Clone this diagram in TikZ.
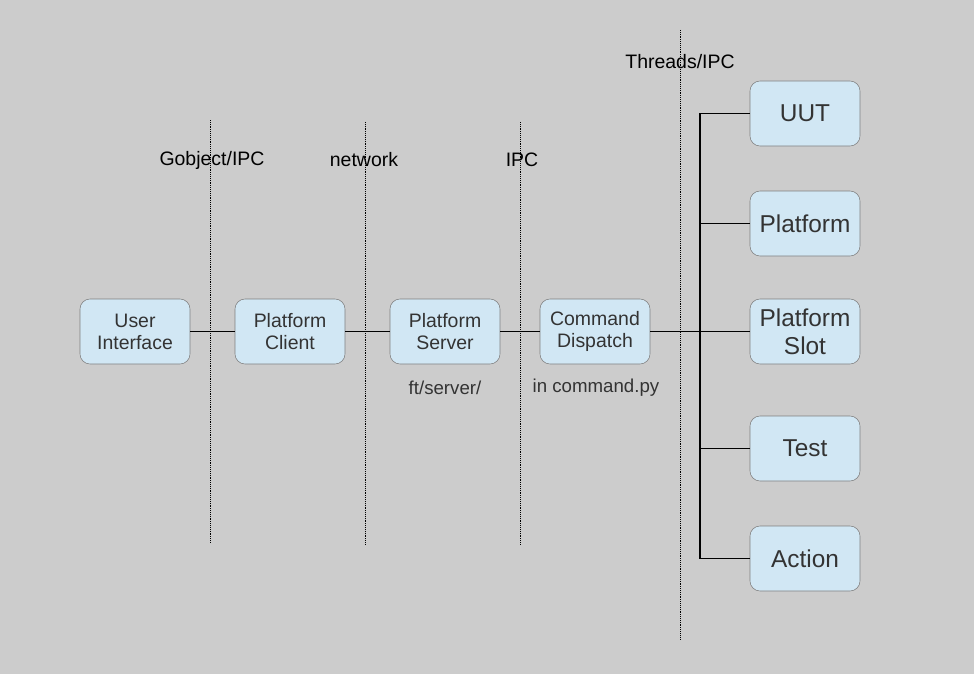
\documentclass[tikz,border=0pt]{standalone}
\usepackage{fontspec}
\setmainfont{Liberation Sans}
\usepackage{tikz}
\usepackage{xcolor}
\usetikzlibrary{positioning, calc}

\definecolor{bggray}{HTML}{CCCCCC}
\definecolor{boxfill}{HTML}{D1E7F4}
\definecolor{boxline}{HTML}{7F7F7F}
\definecolor{boxtext}{HTML}{333333}

\begin{document}
\begin{tikzpicture}[x=0.75pt, y=-0.75pt]
  \tikzset{
    module/.style={draw=boxline, fill=boxfill, rounded corners=7.5pt, minimum width=82.5pt,
      minimum height=48.75pt, inner sep=0pt, align=center, text=boxtext,
      font=\fontsize{14.6}{16.5}\selectfont},
    bigmodule/.style={module, font=\fontsize{18.3}{21}\selectfont},
    wire/.style={line width=1.4pt, black},
    boundary/.style={densely dotted, thin, black},
    label/.style={font=\fontsize{14.6}{16.5}\selectfont},
    note/.style={font=\fontsize{14}{16.5}\selectfont, text=boxtext}
  }

  % Background and page size
  \fill[bggray] (0,0) rectangle (974,674);
  \useasboundingbox (0,0) rectangle (974,674);

  % Boundaries between the layers
  \draw[boundary] (210,120) -- (210,543);
  \draw[boundary] (365,122) -- (365,545);
  \draw[boundary] (520,122) -- (520,545);
  \draw[boundary] (680,30) -- (680,640);

  \node[label] (gobj) at (212,160) {Gobject/IPC};
  \node[label] (net) at (364,160) {network};
  \node[label] (ipc) at (522,160) {IPC};
  \node[label] (threads) at (680,62) {Threads/IPC};

  % Main chain of modules
  \node[module] (ui) at (135,331.5) {User\\Interface};
  \node[module] (client) at (290,331.5) {Platform\\Client};
  \node[module] (server) at (445,331.5) {Platform\\Server};
  \node[module] (cmd) at (595,331.5) {Command\\Dispatch};

  \node[note] (serverpath) at (445,388) {ft/server/};
  \node[note] (cmdpath) at (596,388) {in command.py};

  % Objects reached by the dispatcher
  \node[bigmodule] (uut) at (805,113.5) {UUT};
  \node[bigmodule] (platform) at (805,223.5) {Platform};
  \node[bigmodule] (slot) at (805,331.5) {Platform\\Slot};
  \node[bigmodule] (test) at (805,448.5) {Test};
  \node[bigmodule] (action) at (805,558.5) {Action};

  % Connections
  \draw[wire] (ui) -- (client);
  \draw[wire] (client) -- (server);
  \draw[wire] (server) -- (cmd);
  \draw[wire] (cmd) -- (slot);

  \coordinate (bus) at (700,0);
  \draw[wire] (uut.west) -- (uut.west -| bus) -- (action.west -| bus) -- (action.west);
  \draw[wire] (platform.west) -- (platform.west -| bus);
  \draw[wire] (test.west) -- (test.west -| bus);
\end{tikzpicture}
\end{document}
